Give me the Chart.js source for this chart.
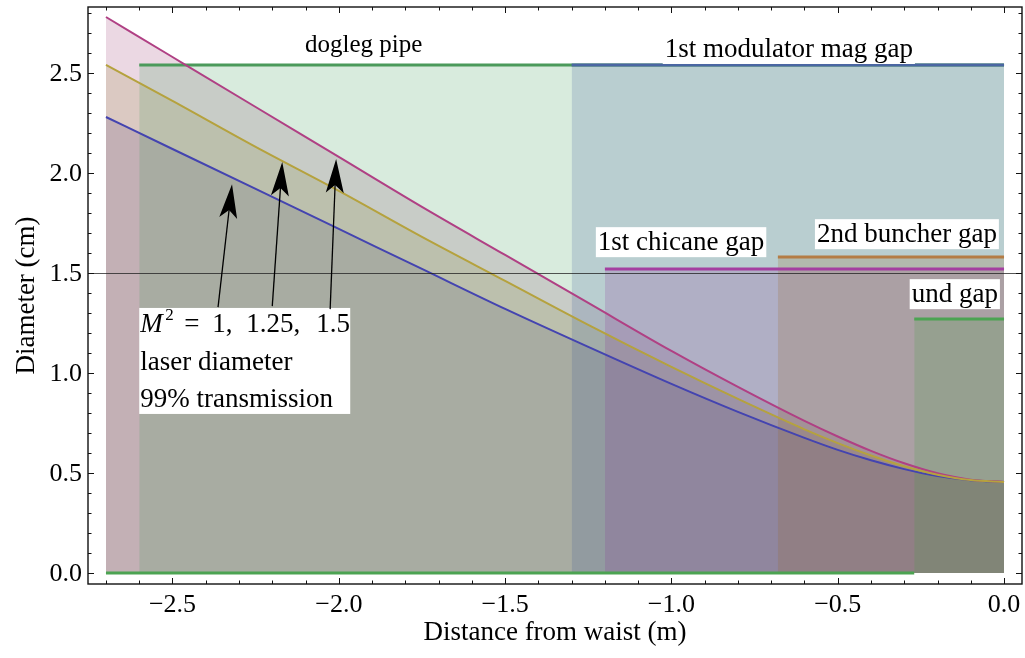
<!DOCTYPE html>
<html>
<head>
<meta charset="utf-8">
<script src="https://cdn.jsdelivr.net/npm/chart.js@4.4.0/dist/chart.umd.min.js"></script>
<style>
  html, body { margin: 0; padding: 0; background: #fff; }
  #wrap { width: 1025px; height: 658px; }
</style>
</head>
<body>
<div id="wrap"><canvas id="beam" width="1025" height="658"></canvas></div>
<script>
// laser diameter (cm) vs distance from waist (m)
const zPos     = [-2.7, -2.5, -2.25, -2.0, -1.75, -1.5, -1.25, -1.0, -0.8, -0.6, -0.5, -0.4, -0.3, -0.2, -0.1, 0.0];
const diamM1   = [2.28, 2.12, 1.92, 1.72, 1.52, 1.32, 1.13, 0.945, 0.805, 0.675, 0.615, 0.563, 0.519, 0.484, 0.463, 0.455];
const diamM125 = [2.54, 2.36, 2.13, 1.91, 1.68, 1.46, 1.24, 1.03, 0.87, 0.718, 0.649, 0.587, 0.533, 0.491, 0.464, 0.455];
const diamM15  = [2.78, 2.58, 2.33, 2.08, 1.83, 1.59, 1.35, 1.11, 0.93, 0.76, 0.682, 0.61, 0.548, 0.498, 0.466, 0.455];
const m2Values = [1, 1.25, 1.5];

// apertures along the line
const apertureNames = ["dogleg pipe", "1st modulator mag gap", "1st chicane gap", "2nd buncher gap", "und gap"];
const apertureStart = [-2.6, -1.3, -1.2, -0.68, -0.27];
const apertureEnd   = [0, 0, 0, 0, 0];
const apertureDiam  = [2.54, 2.54, 1.52, 1.58, 1.27];

const xTicks = [-2.5, -2.0, -1.5, -1.0, -0.5, 0.0];
const yTicks = [0.0, 0.5, 1.0, 1.5, 2.0, 2.5];
const guideLevel = 1.5;

const SERIF = "'Liberation Serif', 'Times New Roman', serif";

const apertureLine = ["#4b9a5b", "#4a66a2", "#a43fa0", "#b47c45", "#4ca352"];
const apertureFill = ["rgba(61,153,84,0.2)", "rgba(61,90,153,0.2)", "rgba(140,50,152,0.2)",
                      "rgba(151,99,31,0.2)", "rgba(66,159,63,0.2)"];

const curves = [
  {label: "M2 = 1", vals: diamM1, line: "#4444b0", fill: "rgba(61,61,153,0.2)"},
  {label: "M2 = 1.5", vals: diamM15, line: "#b04084", fill: "rgba(153,61,113,0.2)"},
  {label: "M2 = 1.25", vals: diamM125, line: "#b5a23e", fill: "rgba(153,139,61,0.2)"}
];

const datasets = [];
// 1) shaded area under each laser curve
curves.forEach(c => {
  datasets.push({
    label: c.label + " area",
    data: zPos.map((z, i) => ({x: z, y: c.vals[i]})),
    borderWidth: 0,
    borderColor: "rgba(0,0,0,0)",
    backgroundColor: c.fill,
    fill: "origin",
    cubicInterpolationMode: "monotone"
  });
});
// 2) apertures, shaded on top
apertureNames.forEach((name, i) => {
  datasets.push({
    label: name,
    data: [{x: apertureStart[i], y: apertureDiam[i]}, {x: apertureEnd[i], y: apertureDiam[i]}],
    borderColor: apertureLine[i],
    backgroundColor: apertureFill[i],
    borderWidth: 3,
    fill: "origin"
  });
});
// und gap sits at zero before it starts
datasets.push({
  label: "und gap (closed)",
  data: [{x: zPos[0], y: 0}, {x: apertureStart[4], y: 0}],
  borderColor: apertureLine[4],
  borderWidth: 3,
  fill: false
});
// 3) laser curves on top
curves.forEach(c => {
  datasets.push({
    label: c.label,
    data: zPos.map((z, i) => ({x: z, y: c.vals[i]})),
    borderColor: c.line,
    borderWidth: 2,
    fill: false,
    cubicInterpolationMode: "monotone"
  });
});

// first in the list is painted first
datasets.forEach((d, i) => {
  d.order = datasets.length - i;
  d.pointRadius = 0;
  d.showLine = true;
});

function boxedText(ctx, text, cx, cy) {
  const w = ctx.measureText(text).width;
  ctx.fillStyle = "#fff";
  ctx.fillRect(cx - w / 2 - 2, cy - 15, w + 4, 30);
  ctx.fillStyle = "#000";
  ctx.fillText(text, cx, cy + 1);
}

function arrow(ctx, sx, sy, tx, ty) {
  const ang = Math.atan2(ty - sy, tx - sx);
  const L = 34, hw = 9, notch = 8;
  const ux = Math.cos(ang), uy = Math.sin(ang);
  const px = -uy, py = ux;
  ctx.strokeStyle = "#000";
  ctx.lineWidth = 1.3;
  ctx.beginPath();
  ctx.moveTo(sx, sy);
  ctx.lineTo(tx - ux * (L - notch), ty - uy * (L - notch));
  ctx.stroke();
  ctx.fillStyle = "#000";
  ctx.beginPath();
  ctx.moveTo(tx, ty);
  ctx.lineTo(tx - ux * L + px * hw, ty - uy * L + py * hw);
  ctx.lineTo(tx - ux * (L - notch), ty - uy * (L - notch));
  ctx.lineTo(tx - ux * L - px * hw, ty - uy * L - py * hw);
  ctx.closePath();
  ctx.fill();
}

function fmt(v) { return v.toFixed(1).replace("-", "\u2212"); }
function m2Label(v) { return String(v); }

const decor = {
  id: "decor",
  afterDatasetsDraw(chart) {
    const {ctx, chartArea: a, scales: {x, y}} = chart;
    ctx.save();

    // 1.5 cm guide line
    const gy = Math.round(y.getPixelForValue(guideLevel)) + 0.5;
    ctx.strokeStyle = "rgba(30,30,30,0.75)";
    ctx.lineWidth = 1;
    ctx.beginPath(); ctx.moveTo(a.left, gy); ctx.lineTo(a.right, gy); ctx.stroke();

    // aperture labels
    ctx.textAlign = "center";
    ctx.textBaseline = "middle";
    const labelAt = [[-1.925, 2.645], [-0.647, 2.62], [-0.971, 1.654], [-0.292, 1.694], [-0.148, 1.394]];
    apertureNames.forEach((n, i) => {
      ctx.font = (i === 0 ? "25px " : "27px ") + SERIF;
      boxedText(ctx, n, x.getPixelForValue(labelAt[i][0]), y.getPixelForValue(labelAt[i][1]));
    });

    // M^2 legend box
    const bx = x.getPixelForValue(-2.6), by = y.getPixelForValue(1.325);
    ctx.fillStyle = "#fff";
    ctx.fillRect(bx, by, 211, 106);
    ctx.fillStyle = "#000";
    ctx.textAlign = "left";
    const l1 = by + 17;
    ctx.font = "italic 27px " + SERIF;
    ctx.fillText("M", bx + 1, l1);
    ctx.font = "17px " + SERIF;
    ctx.fillText("2", bx + 26, l1 - 9);
    ctx.font = "27px " + SERIF;
    ctx.fillText("=", bx + 45, l1);
    ctx.fillText(m2Label(m2Values[0]) + ",", bx + 73, l1);
    ctx.fillText(m2Label(m2Values[1]) + ",", bx + 107, l1);
    ctx.fillText(m2Label(m2Values[2]), bx + 177, l1);
    ctx.fillText("laser diameter", bx + 1, by + 55);
    ctx.fillText("99% transmission", bx + 1, by + 92);

    // arrows to the three curves
    const arrows = [[-2.363, 1.329, -2.321, 1.944], [-2.200, 1.334, -2.170, 2.055], [-2.026, 1.319, -2.008, 2.070]];
    arrows.forEach(r => arrow(ctx, x.getPixelForValue(r[0]), y.getPixelForValue(r[1]),
                                   x.getPixelForValue(r[2]), y.getPixelForValue(r[3])));

    // frame with inward ticks
    ctx.strokeStyle = "#111";
    ctx.lineWidth = 1.4;
    ctx.strokeRect(a.left, a.top, a.right - a.left, a.bottom - a.top);
    ctx.lineWidth = 1;
    ctx.beginPath();
    for (let k = -27; k <= 0; k++) {
      const px = Math.round(x.getPixelForValue(k / 10)) + 0.5;
      const len = k % 5 === 0 ? 6 : 3.5;
      ctx.moveTo(px, a.bottom); ctx.lineTo(px, a.bottom - len);
      ctx.moveTo(px, a.top); ctx.lineTo(px, a.top + len);
    }
    for (let k = 0; k <= 28; k++) {
      const py = Math.round(y.getPixelForValue(k / 10)) + 0.5;
      const len = k % 5 === 0 ? 6 : 3.5;
      ctx.moveTo(a.left, py); ctx.lineTo(a.left + len, py);
      ctx.moveTo(a.right, py); ctx.lineTo(a.right - len, py);
    }
    ctx.stroke();

    // tick labels
    ctx.fillStyle = "#000";
    ctx.font = "26px " + SERIF;
    ctx.textAlign = "center";
    ctx.textBaseline = "middle";
    xTicks.forEach(v => ctx.fillText(fmt(v), x.getPixelForValue(v), a.bottom + 21));
    ctx.textAlign = "right";
    yTicks.forEach(v => ctx.fillText(fmt(v), a.left - 6, y.getPixelForValue(v) + 1));

    ctx.restore();
  }
};

new Chart(document.getElementById("beam"), {
  type: "scatter",
  data: {datasets: datasets},
  options: {
    responsive: false,
    animation: false,
    layout: {padding: {left: 0, right: 3, top: 7, bottom: 0}},
    plugins: {
      legend: {display: false},
      tooltip: {enabled: false},
      filler: {drawTime: "beforeDatasetsDraw"}
    },
    scales: {
      x: {
        type: "linear", min: -2.754, max: 0.054,
        grid: {display: false}, border: {display: false},
        ticks: {display: false},
        title: {display: true, text: "Distance from waist (m)", color: "#000",
                font: {family: SERIF, size: 27}, padding: {top: 0, bottom: 9}},
        afterFit: s => { s.height = 74; }
      },
      y: {
        type: "linear", min: -0.0555, max: 2.83,
        grid: {display: false}, border: {display: false},
        ticks: {display: false},
        title: {display: true, text: "Diameter (cm)", color: "#000",
                font: {family: SERIF, size: 27}, padding: {top: 11, bottom: 0}},
        afterFit: s => { s.width = 88; }
      }
    }
  },
  plugins: [decor]
});
</script>
</body>
</html>
